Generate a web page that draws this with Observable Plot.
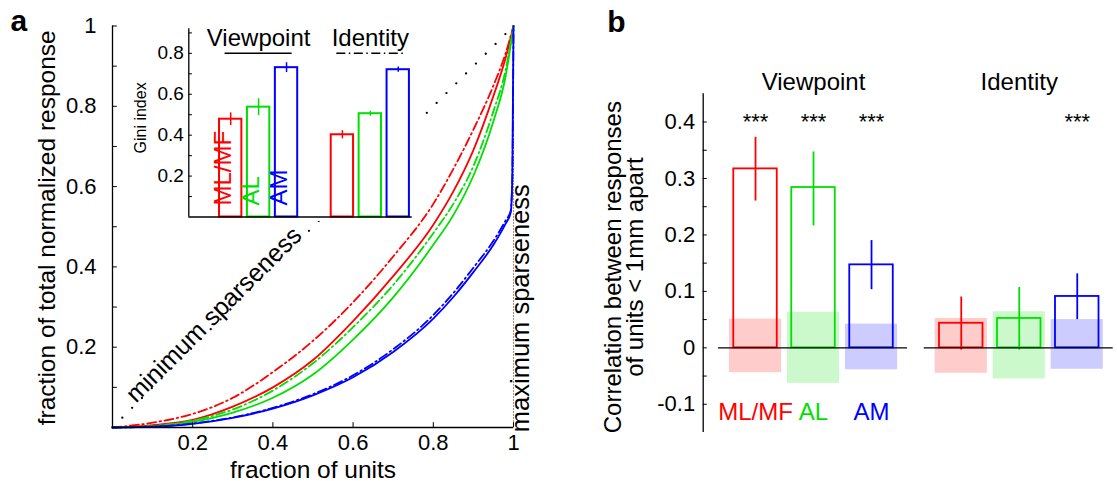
<!DOCTYPE html>
<html>
<head>
<meta charset="utf-8">
<script src="https://cdn.jsdelivr.net/npm/d3@7"></script>
<script src="https://cdn.jsdelivr.net/npm/@observablehq/plot@0.6"></script>
<style>
  html, body { margin: 0; padding: 0; background: #fff; }
  #root { position: relative; width: 1117px; height: 481px; overflow: hidden; background: #fff; }
</style>
</head>
<body>
<div id="root"></div>
<script>
// ---------------- data ----------------
const regions = ["ML/MF", "AL", "AM"];
const regionColors = ["#ff0000", "#00e000", "#0000ff"];
const conditions = ["Viewpoint", "Identity"];

// Panel a: Lorenz curves (fraction of units vs fraction of total normalized response)
const fracUnits   = [0, 0.1, 0.2, 0.3, 0.4, 0.5, 0.6, 0.7, 0.8, 0.85, 0.9, 0.95, 0.98, 1];
const fracUnitsAM = [0, 0.1, 0.2, 0.3, 0.4, 0.5, 0.6, 0.7, 0.8, 0.85, 0.9, 0.95, 0.98, 0.993, 0.997, 1];
const respViewpointMLMF = [0, 0.006, 0.019, 0.052, 0.100, 0.168, 0.265, 0.377, 0.505, 0.588, 0.691, 0.826, 0.919, 1];
const respIdentityMLMF  = [0, 0.012, 0.034, 0.074, 0.138, 0.216, 0.312, 0.426, 0.557, 0.644, 0.742, 0.852, 0.931, 1];
const respViewpointAL   = [0, 0.003, 0.014, 0.037, 0.074, 0.132, 0.219, 0.324, 0.455, 0.529, 0.627, 0.763, 0.873, 1];
const respIdentityAL    = [0, 0.004, 0.017, 0.045, 0.092, 0.160, 0.250, 0.355, 0.484, 0.557, 0.651, 0.788, 0.889, 1];
const respViewpointAM   = [0, 0.002, 0.009, 0.024, 0.047, 0.080, 0.125, 0.188, 0.271, 0.325, 0.387, 0.455, 0.507, 0.535, 0.62, 1];
const respIdentityAM    = [0, 0.002, 0.010, 0.025, 0.049, 0.083, 0.130, 0.195, 0.280, 0.335, 0.398, 0.465, 0.515, 0.540, 0.62, 1];
const minSparseness = [[0, 0], [1, 1]];
const maxSparseness = [[1, 0], [1, 1]];
const xTicksA = [0.2, 0.4, 0.6, 0.8, 1];
const yTicksA = [0.1, 0.2, 0.3, 0.4, 0.5, 0.6, 0.7, 0.8, 0.9, 1];
const yLabelsA = [0.2, 0.4, 0.6, 0.8, 1];

// Inset: Gini index
const giniViewpoint    = [0.478, 0.537, 0.730];
const giniViewpointErr = [0.031, 0.041, 0.024];
const giniIdentity     = [0.402, 0.505, 0.720];
const giniIdentityErr  = [0.020, 0.012, 0.013];
const yTicksI  = [0.1, 0.2, 0.3, 0.4, 0.5, 0.6, 0.7, 0.8, 0.9];
const yLabelsI = [0.2, 0.4, 0.6, 0.8];

// Panel b: correlation between responses of units < 1mm apart
const corrViewpoint   = [0.317, 0.284, 0.147];
const corrViewpointLo = [0.260, 0.216, 0.103];
const corrViewpointHi = [0.373, 0.347, 0.190];
const nullViewpointLo = [-0.044, -0.063, -0.039];
const nullViewpointHi = [0.051, 0.063, 0.042];
const sigViewpoint    = ["***", "***", "***"];
const corrIdentity    = [0.0435, 0.052, 0.091];
const corrIdentityLo  = [-0.004, -0.004, 0.050];
const corrIdentityHi  = [0.090, 0.107, 0.131];
const nullIdentityLo  = [-0.045, -0.055, -0.038];
const nullIdentityHi  = [0.052, 0.064, 0.050];
const sigIdentity     = ["", "", "***"];
const yTicksB  = [-0.1, -0.05, 0, 0.05, 0.1, 0.15, 0.2, 0.25, 0.3, 0.35, 0.4];
const yLabelsB = [-0.1, 0, 0.1, 0.2, 0.3, 0.4];

// ---------------- layout ----------------
const FONT = '"Liberation Sans", Arial, Helvetica, sans-serif';
const dashDot = "9,3.5,1.5,3.5";
const root = document.getElementById("root");
function place(svg, left, top) {
  svg.style.position = "absolute";
  svg.style.left = left + "px";
  svg.style.top = top + "px";
  svg.style.maxWidth = "none";
  root.appendChild(svg);
}
const style = (bg) => ({fontFamily: FONT, fontSize: "22px", background: bg, color: "black", overflow: "visible"});

// ---------------- panel a ----------------
const toRows = (xs, ys) => xs.map((x, i) => ({x, y: ys[i]}));
const curves = [
  {rows: toRows(fracUnits, respIdentityMLMF), color: regionColors[0], dash: dashDot},
  {rows: toRows(fracUnits, respViewpointMLMF), color: regionColors[0], dash: null},
  {rows: toRows(fracUnits, respIdentityAL), color: regionColors[1], dash: dashDot},
  {rows: toRows(fracUnits, respViewpointAL), color: regionColors[1], dash: null},
  {rows: toRows(fracUnitsAM, respIdentityAM), color: regionColors[2], dash: dashDot},
  {rows: toRows(fracUnitsAM, respViewpointAM), color: regionColors[2], dash: null}
];
const tickLenA = 0.012;
const panelA = Plot.plot({
  width: 560, height: 481,
  marginLeft: 112, marginRight: 47, marginTop: 25.5, marginBottom: 54,
  x: {domain: [0, 1], axis: null},
  y: {domain: [0, 1], axis: null},
  style: style("white"),
  marks: [
    Plot.line(minSparseness, {x: d => d[0], y: d => d[1], stroke: "black", strokeWidth: 2.3, strokeDasharray: "0,13.9", strokeLinecap: "round"}),
    Plot.line(maxSparseness, {x: d => d[0], y: d => d[1], stroke: "#8a8a8a", strokeWidth: 1, strokeDasharray: "1,2"}),
    ...curves.map(c => Plot.line(c.rows, {x: "x", y: "y", stroke: c.color, strokeWidth: 1.8, strokeDasharray: c.dash, curve: "monotone-x"})),
    Plot.ruleX([0], {stroke: "black", strokeWidth: 1.3}),
    Plot.ruleY([0], {stroke: "black", strokeWidth: 1.3}),
    Plot.ruleY(yTicksA, {x1: 0, x2: tickLenA, stroke: "black", strokeWidth: 1}),
    Plot.ruleX(xTicksA, {y1: 0, y2: tickLenA, stroke: "black", strokeWidth: 1}),
    Plot.text(yLabelsA, {x: 0, y: d => d, dx: -16, textAnchor: "end", text: d => String(d), fontSize: 22}),
    Plot.text(xTicksA, {x: d => d, y: 0, dy: 15, text: d => String(d), fontSize: 22}),
    Plot.text(["fraction of units"], {frameAnchor: "bottom", dy: 50, lineAnchor: "bottom", text: d => d, fontSize: 24.5}),
    Plot.text(["fraction of total normalized response"], {frameAnchor: "left", dx: -65, dy: 1, rotate: -90, textAnchor: "middle", text: d => d, fontSize: 24.5}),
    Plot.text(["minimum sparseness"], {x: 0.267, y: 0.267, rotate: -45, textAnchor: "middle", lineAnchor: "bottom", text: d => d, fontSize: 25}),
    Plot.text(["maximum sparseness"], {frameAnchor: "bottom-right", dx: 15.5, dy: 4.7, rotate: -90, textAnchor: "start", text: d => d, fontSize: 25.5}),
    Plot.text(["a"], {frameAnchor: "top-left", dx: -102, dy: 4.5, textAnchor: "start", lineAnchor: "bottom", fontWeight: "bold", fontSize: 30, text: d => d})
  ]
});
place(panelA, 0, 0);

// ---------------- inset ----------------
const groupStepI = 4;
const rowsI = [];
conditions.forEach((c, gi) => regions.forEach((r, ri) => rowsI.push({
  cond: c, region: r, color: regionColors[ri], pos: gi * groupStepI + ri + 1,
  value: (gi ? giniIdentity : giniViewpoint)[ri],
  err: (gi ? giniIdentityErr : giniViewpointErr)[ri]
})));
const groupsI = conditions.map((c, gi) => ({cond: c, center: gi * groupStepI + 2}));
const xDomainI = [-0.5, 7.5];
const legendLineY = 0.8;
const inset = Plot.plot({
  width: 298, height: 204,
  marginLeft: 68.3, marginRight: 6.3, marginTop: 11.3, marginBottom: 4.5,
  x: {domain: xDomainI, axis: null},
  y: {domain: [0, 0.92], axis: null},
  color: {type: "identity"},
  style: style("white"),
  marks: [
    Plot.rect(rowsI, {x1: d => d.pos - 0.4, x2: d => d.pos + 0.4, y1: 0, y2: "value", stroke: "color", fill: "none", strokeWidth: 2}),
    Plot.ruleX(rowsI, {x: "pos", y1: d => d.value - d.err, y2: d => d.value + d.err, stroke: "color", strokeWidth: 1.5}),
    Plot.ruleX([xDomainI[0]], {stroke: "black", strokeWidth: 1.3}),
    Plot.ruleY([0], {stroke: "black", strokeWidth: 1.5}),
    Plot.ruleY(yTicksI, {x1: xDomainI[0], x2: xDomainI[0] + 0.13, stroke: "black", strokeWidth: 1}),
    Plot.text(yLabelsI, {x: xDomainI[0], y: d => d, dx: -5, textAnchor: "end", text: d => String(d), fontSize: 19}),
    Plot.text(groupsI, {x: "center", frameAnchor: "top", lineAnchor: "top", text: "cond", fontSize: 24}),
    Plot.ruleY(groupsI.slice(0, 1), {y: legendLineY, x1: d => d.center - 1.2, x2: d => d.center + 1.2, stroke: "black", strokeWidth: 1.5}),
    Plot.ruleY(groupsI.slice(1, 2), {y: legendLineY, x1: d => d.center - 1.2, x2: d => d.center + 1.2, stroke: "black", strokeWidth: 1.5, strokeDasharray: dashDot}),
    Plot.text(rowsI.filter(d => d.cond === "Viewpoint"), {x: "pos", frameAnchor: "bottom", dy: -11.5, rotate: -90, textAnchor: "start", text: "region", fill: "color", fontSize: 24}),
    Plot.text(["Gini index"], {frameAnchor: "left", dx: -48.3, dy: -5, rotate: -90, textAnchor: "middle", text: d => d, fontSize: 16})
  ]
});
place(inset, 120, 17);

// ---------------- panel b ----------------
const groupStepB = 3.547;
const rowsB = [];
conditions.forEach((c, gi) => regions.forEach((r, ri) => rowsB.push({
  cond: c, region: r, color: regionColors[ri], pos: gi * groupStepB + ri,
  value: (gi ? corrIdentity : corrViewpoint)[ri],
  lo: (gi ? corrIdentityLo : corrViewpointLo)[ri],
  hi: (gi ? corrIdentityHi : corrViewpointHi)[ri],
  nullLo: (gi ? nullIdentityLo : nullViewpointLo)[ri],
  nullHi: (gi ? nullIdentityHi : nullViewpointHi)[ri],
  sig: (gi ? sigIdentity : sigViewpoint)[ri]
})));
const groupsB = conditions.map((c, gi) => ({cond: c, center: gi * groupStepB + 1}));
const xDomainB = [-0.902, 6.241];
const yTitleB = "Correlation between responses\nof units < 1mm apart";
const panelB = Plot.plot({
  width: 537, height: 481,
  marginLeft: 122.7, marginRight: 0, marginTop: 93.3, marginBottom: 49,
  x: {domain: xDomainB, axis: null},
  y: {domain: [-0.15, 0.45], axis: null},
  color: {type: "identity"},
  style: style("white"),
  marks: [
    Plot.rect(rowsB, {x1: d => d.pos - 0.45, x2: d => d.pos + 0.45, y1: "nullLo", y2: "nullHi", fill: "color", fillOpacity: 0.2}),
    Plot.rect(rowsB, {x1: d => d.pos - 0.375, x2: d => d.pos + 0.375, y1: 0, y2: "value", stroke: "color", fill: "none", strokeWidth: 1.8}),
    Plot.ruleX(rowsB, {x: "pos", y1: "lo", y2: "hi", stroke: "color", strokeWidth: 1.8}),
    Plot.ruleY(groupsB, {y: 0, x1: d => d.center - 1.638, x2: d => d.center + 1.62, stroke: "black", strokeWidth: 1.3}),
    Plot.text(rowsB, {x: "pos", frameAnchor: "top", dy: 35.5, lineAnchor: "bottom", text: "sig", fontSize: 22}),
    Plot.text(groupsB, {x: "center", frameAnchor: "top", dy: -3.5, lineAnchor: "bottom", text: "cond", fontSize: 24}),
    Plot.text(rowsB.filter(d => d.cond === "Viewpoint"), {x: "pos", frameAnchor: "bottom", dy: -12.5, text: "region", fill: "color", fontSize: 24}),
    Plot.ruleX([xDomainB[0]], {stroke: "black", strokeWidth: 1.3}),
    Plot.ruleY(yTicksB, {x1: xDomainB[0], x2: xDomainB[0] + 0.07, stroke: "black", strokeWidth: 1}),
    Plot.text(yLabelsB, {x: xDomainB[0], y: d => d, dx: -8, textAnchor: "end", text: d => String(d), fontSize: 22}),
    Plot.text([yTitleB], {frameAnchor: "left", dx: -78, dy: 4, rotate: -90, textAnchor: "middle", lineHeight: 0.88, text: d => d, fontSize: 24}),
    Plot.text(["b"], {frameAnchor: "top-left", dx: -96, dy: -61.6, textAnchor: "start", lineAnchor: "bottom", fontWeight: "bold", fontSize: 30, text: d => d})
  ]
});
place(panelB, 580, 0);
</script>
</body>
</html>
